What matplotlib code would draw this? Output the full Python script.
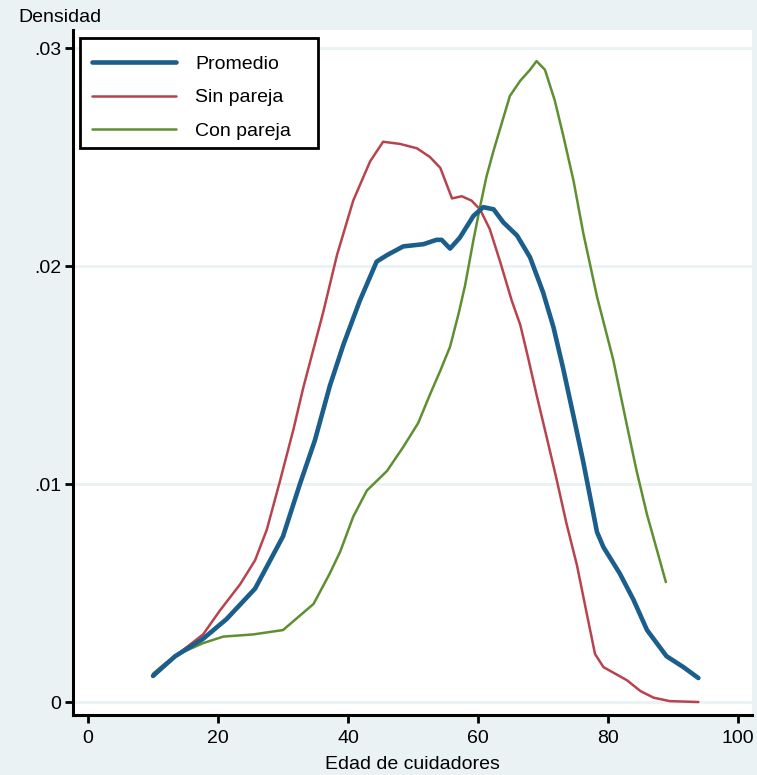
import matplotlib
matplotlib.use("Agg")
import matplotlib.pyplot as plt
from matplotlib.ticker import FixedLocator
from matplotlib.patches import Rectangle

plt.rcParams['font.family'] = ['Liberation Sans', 'DejaVu Sans']

# ---- data ----
prom_x = [10.0, 13.4, 17.7, 21.3, 25.7, 30.0, 32.6, 34.9, 37.2, 39.3, 41.8, 44.4, 46.0, 48.5,
          51.6, 53.6, 54.4, 55.7, 57.2, 59.3, 60.8, 62.4, 63.9, 66.0, 68.0, 70.0, 71.6, 73.1,
          74.7, 76.2, 78.3, 79.3, 81.8, 83.9, 86.0, 89.0, 91.6, 93.9]
prom_y = [.0012, .0021, .0029, .0038, .0052, .0076, .0100, .0120, .0145, .0164, .0184, .0202,
          .0205, .0209, .0210, .0212, .0212, .0208, .0213, .0223, .0227, .0226, .0220, .0214,
          .0204, .0188, .0172, .0153, .0131, .0110, .0078, .0071, .0059, .0047, .0033, .0021,
          .0016, .0011]

sin_x = [10.0, 13.4, 17.7, 20.3, 23.4, 25.7, 27.5, 29.5, 31.6, 33.1, 36.2, 38.3, 40.8, 43.4,
         45.4, 48.0, 50.6, 52.6, 54.2, 56.0, 57.5, 59.0, 60.3, 61.8, 63.4, 65.2, 66.5, 67.7,
         69.0, 70.6, 72.1, 73.6, 75.2, 76.7, 78.0, 79.3, 82.9, 85.0, 87.0, 89.5, 93.9]
sin_y = [.00115, .0021, .0031, .0042, .0054, .0065, .0079, .0101, .0125, .0144, .0179, .0205,
         .0230, .0248, .0257, .0256, .0254, .0250, .0245, .0231, .0232, .0230, .0226, .0217,
         .0202, .0184, .0173, .0158, .0141, .0121, .0102, .0082, .0063, .0041, .0022, .0016,
         .0010, .0005, .0002, .00004, .0]

con_x = [10.0, 12.0, 14.7, 17.7, 20.8, 25.4, 30.0, 34.7, 37.2, 38.8, 40.8, 42.9, 46.0, 48.5,
         50.8, 52.6, 54.2, 55.7, 57.0, 58.0, 59.3, 60.3, 61.3, 62.4, 63.6, 64.9, 66.5, 68.0,
         69.0, 70.3, 71.8, 73.1, 74.7, 76.2, 78.3, 80.8, 82.9, 84.4, 86.0, 87.5, 88.9]
con_y = [.0013, .0018, .0023, .0027, .0030, .0031, .0033, .0045, .0059, .0069, .0085, .0097,
         .0106, .0117, .0128, .0141, .0152, .0163, .0178, .0191, .0212, .0227, .0241, .0253,
         .0265, .0278, .0285, .0290, .0294, .0290, .0276, .0260, .0239, .0215, .0186, .0157,
         .0127, .0106, .0086, .0070, .0055]

labels = ["Promedio", "Sin pareja", "Con pareja"]
x_ticks = [0, 20, 40, 60, 80, 100]
y_ticks = [0, 0.01, 0.02, 0.03]
y_tick_labels = ["0", ".01", ".02", ".03"]

# ---- figure ----
W, H = 757, 775
bg = "#eaf2f4"
fig = plt.figure(figsize=(W/100, H/100), dpi=100, facecolor=bg)
ax = fig.add_axes([73/W, 1-715/H, (752-73)/W, (715-30)/H])
ax.set_facecolor("white")

ax.set_xlim(-2.31, 102.15)
ax.set_ylim(-0.000596, 0.030826)

for yt in y_ticks:
    ax.axhline(yt, color=bg, lw=2, zorder=0.5)

ax.plot(prom_x, prom_y, color="#1b5e8c", lw=3.3, label=labels[0], solid_capstyle="round", solid_joinstyle="round", zorder=3)
ax.plot(sin_x, sin_y, color="#b8434f", lw=1.8, label=labels[1], solid_capstyle="round", solid_joinstyle="round", zorder=2)
ax.plot(con_x, con_y, color="#5e8f30", lw=1.8, label=labels[2], solid_capstyle="round", solid_joinstyle="round", zorder=2)

for s in ["top", "right"]:
    ax.spines[s].set_visible(False)
for s in ["left", "bottom"]:
    ax.spines[s].set_linewidth(2.2)
    ax.spines[s].set_color("black")

ax.xaxis.set_major_locator(FixedLocator(x_ticks))
ax.yaxis.set_major_locator(FixedLocator(y_ticks))
ax.set_yticklabels(y_tick_labels)
ax.tick_params(axis="both", direction="out", length=5.5, width=2, labelsize=14, pad=3, colors="black")
ax.tick_params(axis="x", pad=5)

ax.set_xlabel("Edad de cuidadores", fontsize=14, labelpad=7)
fig.text(18/W, 1-18/H, "Densidad", fontsize=14, ha="left", va="center")

# legend frame (Stata-style box)
ax.add_patch(Rectangle((80/W, 1-148/H), 238/W, 110/H, transform=fig.transFigure,
                       facecolor="white", edgecolor="black", lw=2.0, zorder=4, clip_on=False))
leg = ax.legend(loc="upper left", bbox_to_anchor=(92/W, 1-55/H), bbox_transform=fig.transFigure,
                fontsize=14, frameon=False, handlelength=4.3, handletextpad=1.0,
                labelspacing=0.83, borderpad=0.0, borderaxespad=0.0)
leg.set_zorder(5)

fig.savefig("out.png", dpi=100, facecolor=bg)
